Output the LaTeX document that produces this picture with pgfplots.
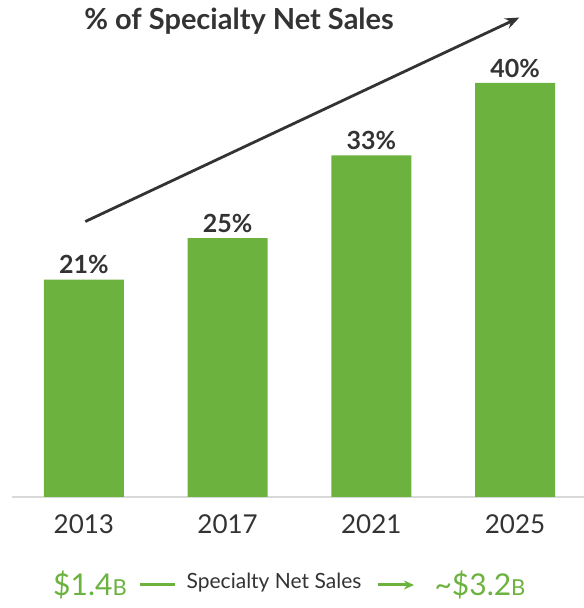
\documentclass[border=0pt]{standalone}
\usepackage{pgfplots}
\pgfplotsset{compat=1.18}
\usetikzlibrary{arrows.meta}
\usepackage{fontspec}
\setmainfont{Lato}
\definecolor{barg}{RGB}{108,178,62}
\definecolor{txt}{RGB}{51,51,51}
\definecolor{axg}{RGB}{217,217,217}

\begin{document}
\begin{tikzpicture}[x=1bp,y=1bp]
\path[use as bounding box] (0,0) rectangle (584,608);
\begin{axis}[
    at={(12bp,111bp)}, anchor=south west,
    scale only axis,
    width=572bp, height=466bp,
    xmin=-0.5, xmax=3.48,
    ymin=0, ymax=45,
    axis x line*=bottom,
    axis y line=none,
    x axis line style={draw=axg, line width=1.5bp, -},
    xtick=data,
    xticklabels={2013,2017,2021,2025},
    xtick style={draw=none},
    x tick label style={font=\fontsize{26bp}{30bp}\selectfont, text=txt, yshift=-14bp},
    bar width=80bp,
    clip=false,
    /pgf/number format/assume math mode=true,
    nodes near coords={\pgfmathprintnumber{\pgfplotspointmeta}\%},
    nodes near coords style={font=\bfseries\fontsize{25bp}{30bp}\selectfont, text=txt, yshift=2bp},
]
\addplot[ybar, fill=barg, draw=none] coordinates {
    (0,21) (1,25) (2,33) (3,40)
};
\draw[txt, line width=2.8bp, -{Stealth[length=14bp,width=11bp]}]
    (axis cs:0.01,26.6) -- (axis cs:3.03,46.3);
\end{axis}
\node[font=\bfseries\fontsize{29bp}{32bp}\selectfont, text=txt] at (239,587) {\% of Specialty Net Sales};
\node[font=\fontsize{30bp}{34bp}\selectfont, text=barg] at (90,23) {\$1.4{\fontsize{22bp}{24bp}\selectfont B}};
\draw[barg, line width=3bp] (140,23) -- (175,23);
\node[font=\fontsize{21bp}{24bp}\selectfont, text=txt] at (274,25) {Specialty Net Sales};
\draw[barg, line width=3bp, -{Stealth[length=10bp,width=9bp]}] (378,23) -- (414,23);
\node[font=\fontsize{30bp}{34bp}\selectfont, text=barg] at (480,23) {\textasciitilde\$3.2{\fontsize{22bp}{24bp}\selectfont B}};
\end{tikzpicture}
\end{document}
